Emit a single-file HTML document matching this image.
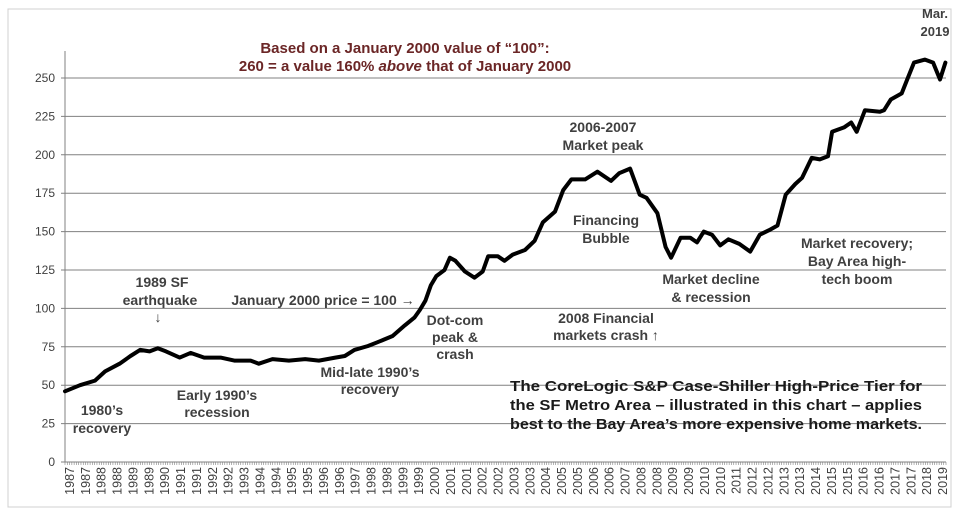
<!DOCTYPE html>
<html><head><meta charset="utf-8"><style>
body{margin:0;background:#fff;}
svg{display:block;font-family:"Liberation Sans",Arial,sans-serif;}
.ann{font-weight:bold;font-size:14px;fill:#404040;}
</style></head><body>
<svg id="chart" width="957" height="513" viewBox="0 0 957 513">
<rect x="8" y="9" width="943" height="498" fill="#fff" stroke="#d0d0d0"/>
<g id="grid"></g>
<g id="yticks"></g>
<g id="xticks"></g>
<path id="line" fill="none" stroke="#000" stroke-width="4" stroke-linejoin="round" stroke-linecap="round"/>
<g font-weight="bold" font-size="15" fill="#6b2626" text-anchor="middle">
<text x="405" y="53">Based on a January 2000 value of “100”:</text>
<text x="405" y="71">260 = a value 160% <tspan font-style="italic">above</tspan> that of January 2000</text>
</g>
<g class="ann" text-anchor="middle">
<text x="935" y="18" font-size="13">Mar.</text>
<text x="935" y="36" font-size="13">2019</text>
<text x="603" y="132">2006-2007</text><text x="603" y="150">Market peak</text>
<text x="606" y="225">Financing</text><text x="606" y="243">Bubble</text>
<text x="711" y="284">Market decline</text><text x="711" y="302">&amp; recession</text>
<text x="857" y="248">Market recovery;</text><text x="857" y="266">Bay Area high-</text><text x="857" y="284">tech boom</text>
<text x="162" y="287">1989 SF</text><text x="160" y="305">earthquake</text><text x="158" y="322">↓</text>
<text x="323" y="305">January 2000 price = 100 →</text>
<text x="455" y="325">Dot-com</text><text x="455" y="342">peak &amp;</text><text x="455" y="359">crash</text>
<text x="606" y="323">2008 Financial</text><text x="606" y="340">markets crash ↑</text>
<text x="370" y="377">Mid-late 1990’s</text><text x="370" y="394">recovery</text>
<text x="217" y="400">Early 1990’s</text><text x="217" y="417">recession</text>
<text x="102" y="415">1980’s</text><text x="102" y="433">recovery</text>
</g>
<g font-weight="bold" font-size="15" fill="#1a1a1a">
<text x="510" y="391" textLength="412" lengthAdjust="spacingAndGlyphs">The CoreLogic S&amp;P Case-Shiller High-Price Tier for</text>
<text x="510" y="410" textLength="412" lengthAdjust="spacingAndGlyphs">the SF Metro Area – illustrated in this chart – applies</text>
<text x="510" y="429" textLength="412" lengthAdjust="spacingAndGlyphs">best to the Bay Area’s more expensive home markets.</text>
</g>
</svg>
<script>
const years=[1987,1987.55,1988.1,1988.47,1989.0,1989.4,1989.75,1990.1,1990.4,1990.7,1991.2,1991.6,1992.1,1992.7,1993.2,1993.8,1994.1,1994.6,1995.2,1995.8,1996.3,1996.9,1997.25,1997.6,1998.1,1998.45,1999.0,1999.45,1999.8,2000.0,2000.2,2000.4,2000.6,2000.9,2001.1,2001.3,2001.65,2002.0,2002.3,2002.5,2002.85,2003.1,2003.4,2003.85,2004.2,2004.5,2004.95,2005.25,2005.55,2006.05,2006.5,2007.0,2007.3,2007.7,2008.05,2008.3,2008.7,2009.0,2009.2,2009.55,2009.9,2010.15,2010.4,2010.7,2011.0,2011.3,2011.7,2012.1,2012.45,2012.8,2013.1,2013.4,2013.75,2014.0,2014.35,2014.65,2014.95,2015.1,2015.55,2015.8,2016.0,2016.3,2016.85,2017.0,2017.25,2017.65,2017.85,2018.1,2018.5,2018.8,2019.05,2019.25];
const values=[46,50,53,59,64,69,73,72,74,72,68,71,68,68,66,66,64,67,66,67,66,68,69,73,75.5,78,82,89,94,99,105,115,121,125,133,131,124,120,124,134,134,131,135,138,144,156,163,177,184,184,189,183,188,191,174,172,162,140,133,146,146,143,150,148,141,145,142,137,148,151,154,174,181,185,198,197,199,215,218,221,215,229,228,229,236,240,249,260,262,260,249,260];
const yTicks=[0,25,50,75,100,125,150,175,200,225,250];
const xLabels=["1987","1987","1988","1988","1989","1989","1990","1991","1991","1992","1992","1993","1994","1994","1995","1995","1996","1996","1997","1998","1998","1999","1999","2000","2001","2001","2002","2002","2003","2003","2004","2005","2005","2006","2006","2007","2008","2008","2009","2009","2010","2010","2011","2012","2012","2013","2013","2014","2015","2015","2016","2016","2017","2017","2018","2019"];
const NS="http://www.w3.org/2000/svg";
const L=65,R=946,T=51,B=462;
const xs=t=>L+(t-1987)*27.3;
const ys=v=>B-v*1.536;
function mk(tag,attrs,parent){const e=document.createElementNS(NS,tag);for(const k in attrs)e.setAttribute(k,attrs[k]);parent.appendChild(e);return e;}
const grid=document.getElementById('grid'),yt=document.getElementById('yticks'),xt=document.getElementById('xticks');
mk('line',{x1:L,y1:T,x2:L,y2:B,stroke:'#808080','stroke-width':1},grid);
yTicks.forEach(v=>{
  const g=mk('line',{x1:L-4,y1:ys(v),x2:R,y2:ys(v),stroke:'#808080','stroke-width':1},grid);
  
  
  const t=mk('text',{x:55,y:ys(v)+4,'text-anchor':'end','font-size':12,fill:'#404040'},yt);
  t.textContent=v;
  
  
});
for(let i=0;i<=386;i++){const x=L+i*(R-L)/386;mk('line',{x1:x,y1:B,x2:x,y2:B+3,stroke:'#808080','stroke-width':0.6},grid);}
const n=xLabels.length,x0=70,x1=943;
xLabels.forEach((s,i)=>{
  const x=x0+i*(x1-x0)/(n-1);
  const t=mk('text',{x:0,y:0,transform:`translate(${x+4},${B+5}) rotate(-90)`,'text-anchor':'end','font-size':12.5,fill:'#404040'},xt);
  t.textContent=s;
  
  
});
document.getElementById('line').setAttribute('d',years.map((t,i)=>(i?'L':'M')+xs(t).toFixed(1)+','+ys(values[i]).toFixed(1)).join(''));
</script>
</body></html>
